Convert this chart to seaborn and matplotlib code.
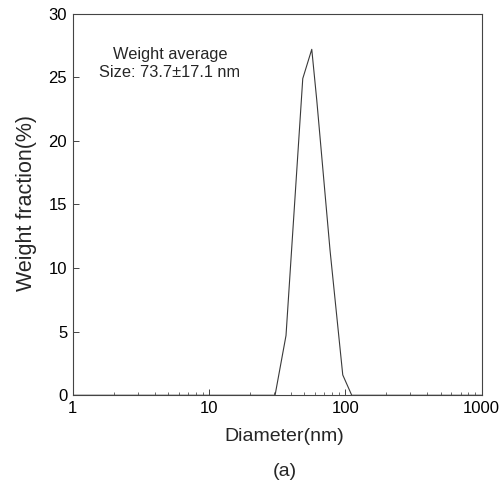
import matplotlib
matplotlib.use("Agg")
import matplotlib.pyplot as plt
import numpy as np
import pandas as pd
import seaborn as sns
from matplotlib.ticker import LogLocator, FixedLocator, NullFormatter

# values
diameter_nm = [1, 30.5, 36.7, 48.7, 56.7, 61.7, 77.2, 95.7, 111.4, 1000]
weight_frac = [0, 0, 4.7, 24.9, 27.2, 23.2, 11.4, 1.6, 0, 0]
x_ticks = [1, 10, 100, 1000]
x_tick_labels = ["1", "10", "100", "1000"]
y_ticks = [0, 5, 10, 15, 20, 25, 30]
note_lines = ["Weight average", "Size: 73.7\u00b117.1 nm"]

sns.set_theme(style="white")
plt.rcParams['font.family'] = ['Liberation Sans', 'DejaVu Sans']

df = pd.DataFrame({"diameter": diameter_nm, "fraction": weight_frac})

fig = plt.figure(figsize=(4.99, 4.88), dpi=100)
ax = fig.add_axes([0.1457, 0.19, 0.8196, 0.7819])

sns.lineplot(data=df, x="diameter", y="fraction", ax=ax, color="#3a3a3a",
             linewidth=0.8, sort=False)

ax.set_xscale("log")
ax.set_xlim(1, 1000)
ax.set_ylim(0, 30)
ax.xaxis.set_major_locator(FixedLocator(x_ticks))
ax.set_xticklabels(x_tick_labels)
ax.xaxis.set_minor_locator(LogLocator(base=10, subs=np.arange(2, 10)))
ax.xaxis.set_minor_formatter(NullFormatter())
ax.set_yticks(y_ticks)

for s in ax.spines.values():
    s.set_color("#444444")
    s.set_linewidth(0.8)

ax.tick_params(axis="both", which="major", direction="in", length=4, width=0.7,
               color="#444444", labelsize=12, labelcolor="black", pad=4,
               bottom=True, left=True, top=False, right=False)
ax.tick_params(axis="x", which="minor", direction="in", length=2, width=0.6,
               color="#555555", bottom=True, top=False)

ax.set_xlabel("Diameter(nm)", fontsize=14)
ax.set_ylabel("Weight fraction(%)", fontsize=15.5)
ax.xaxis.set_label_coords(0.517, -0.109)
ax.xaxis.label.set_va("center")
ax.yaxis.set_label_coords(-0.114, 0.503)
ax.yaxis.label.set_va("center")

ax.text(0.238, 0.892, note_lines[0], transform=ax.transAxes, ha="center",
        va="center", fontsize=11.8)
ax.text(0.238, 0.847, note_lines[1], transform=ax.transAxes, ha="center",
        va="center", fontsize=11.8)

fig.text(0.571, 0.033, "(a)", ha="center", va="center", fontsize=14)

fig.savefig("out.png", dpi=100)
plt.close(fig)
